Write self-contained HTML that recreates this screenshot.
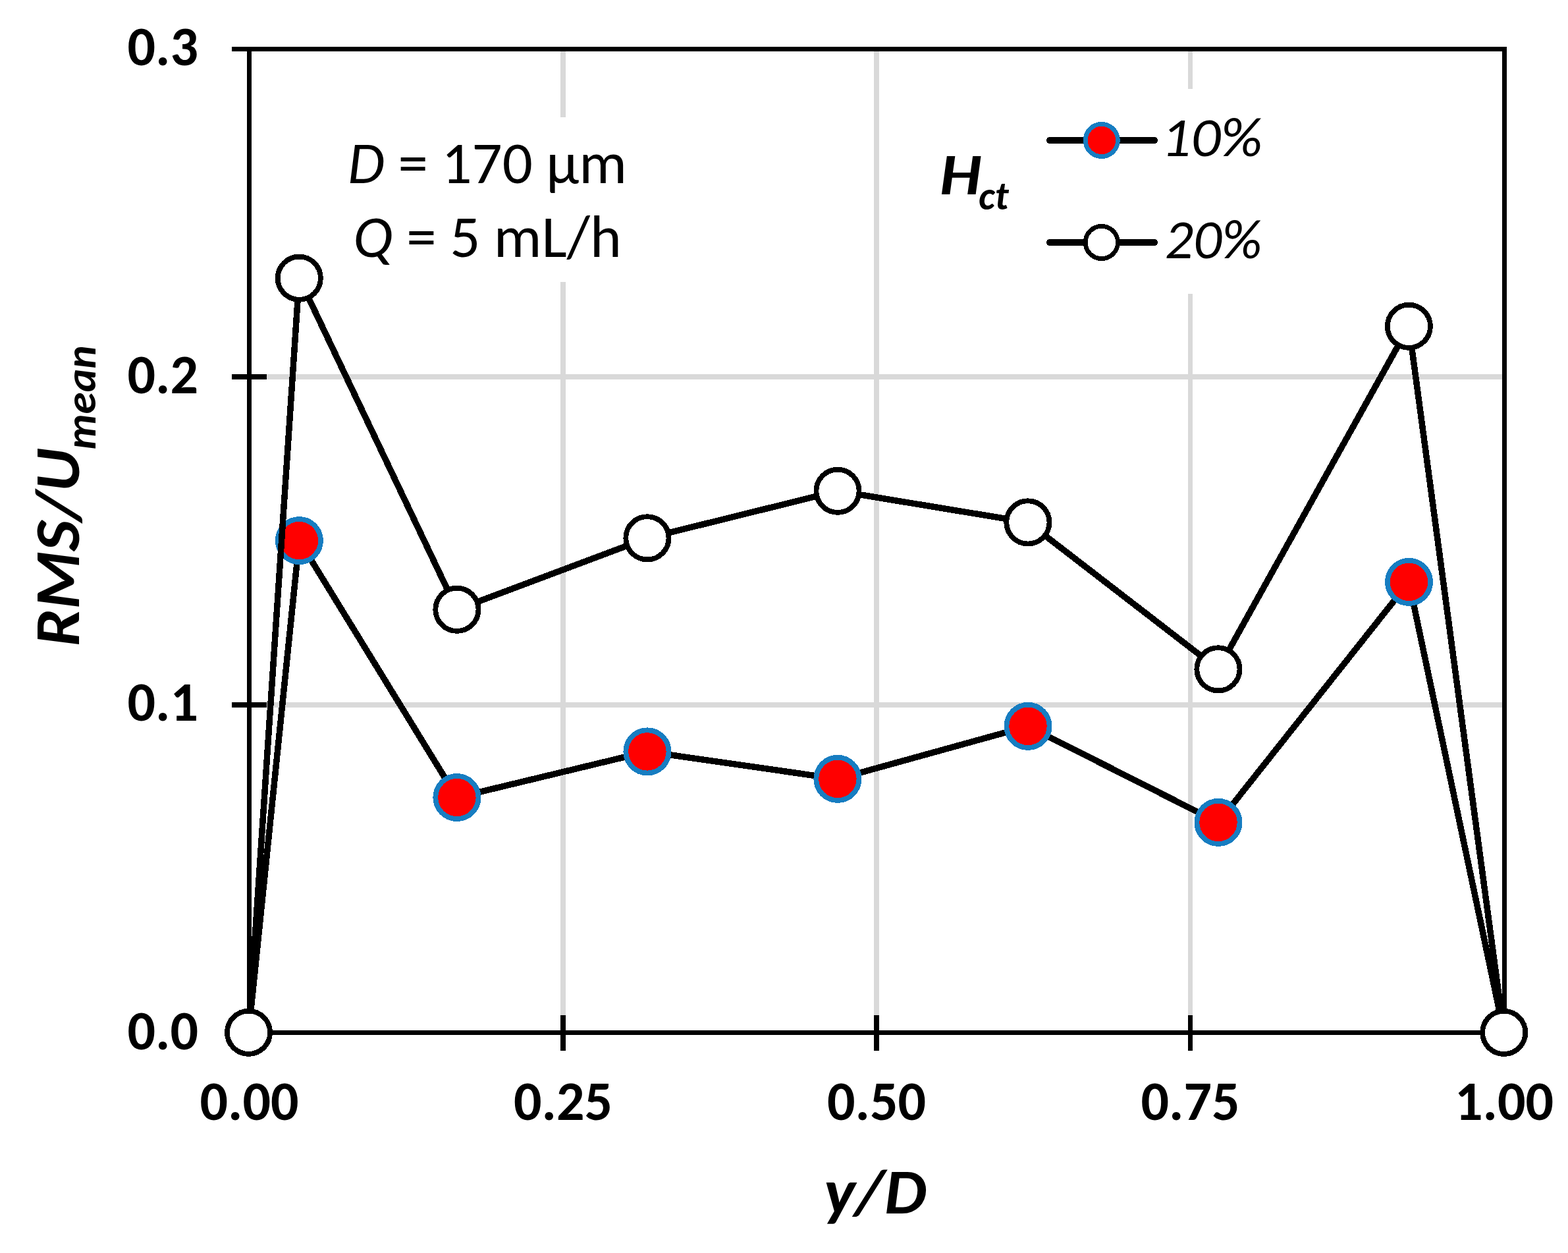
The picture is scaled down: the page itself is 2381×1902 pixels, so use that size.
<!DOCTYPE html>
<html><head><meta charset="utf-8"><title>RMS/Umean vs y/D</title>
<style>
html,body{margin:0;padding:0;background:#fff;width:2381px;height:1902px;overflow:hidden}
svg{display:block}
</style></head><body>
<svg width="2381" height="1902" viewBox="0 0 2381 1902" shape-rendering="crispEdges" font-family="Carlito, 'Liberation Sans', sans-serif">
<rect x="0" y="0" width="2381" height="1902" fill="#fff"/>
<g fill="#d9d9d9" shape-rendering="crispEdges">
<rect x="382" y="568" width="1899" height="8"/>
<rect x="382" y="1066" width="1899" height="8"/>
<rect x="851" y="78" width="8" height="1486"/>
<rect x="1327" y="78" width="8" height="1486"/>
<rect x="1804" y="78" width="7" height="1486"/>
</g>
<g fill="#000" shape-rendering="crispEdges">
<rect x="352" y="71" width="1936" height="7"/>
<rect x="375" y="71" width="7" height="1500"/>
<rect x="2281" y="71" width="7" height="1500"/>
<rect x="375" y="1564" width="1913" height="7"/>
<rect x="352" y="568" width="53" height="8"/>
<rect x="352" y="1066" width="53" height="8"/>
<rect x="352" y="1564" width="53" height="7"/>
<rect x="851" y="1541" width="8" height="54"/>
<rect x="1327" y="1541" width="8" height="54"/>
<rect x="1804" y="1541" width="7" height="54"/>
<rect x="375" y="1541" width="7" height="54"/>
<rect x="2281" y="1541" width="7" height="54"/>
</g>
<g fill="#fff">
<rect x="840" y="178" width="30" height="250"/>
<rect x="1795" y="135" width="25" height="311"/>
</g>
<polyline points="377.5,1567.3 454.4,820.6 693.9,1210.5 982.9,1140.9 1271.9,1182.4 1561,1102.4 1850,1248.4 2139.5,883.4 2283.7,1567.4" fill="none" stroke="#000" stroke-width="9.5" stroke-linejoin="round"/>
<circle cx="377.5" cy="1567.3" r="32.6" fill="#ff0000" stroke="#177dc1" stroke-width="7.8"/>
<circle cx="454.4" cy="820.6" r="32.6" fill="#ff0000" stroke="#177dc1" stroke-width="7.8"/>
<circle cx="693.9" cy="1210.5" r="32.6" fill="#ff0000" stroke="#177dc1" stroke-width="7.8"/>
<circle cx="982.9" cy="1140.9" r="32.6" fill="#ff0000" stroke="#177dc1" stroke-width="7.8"/>
<circle cx="1271.9" cy="1182.4" r="32.6" fill="#ff0000" stroke="#177dc1" stroke-width="7.8"/>
<circle cx="1561" cy="1102.4" r="32.6" fill="#ff0000" stroke="#177dc1" stroke-width="7.8"/>
<circle cx="1850" cy="1248.4" r="32.6" fill="#ff0000" stroke="#177dc1" stroke-width="7.8"/>
<circle cx="2139.5" cy="883.4" r="32.6" fill="#ff0000" stroke="#177dc1" stroke-width="7.8"/>
<circle cx="2283.7" cy="1567.4" r="32.6" fill="#ff0000" stroke="#177dc1" stroke-width="7.8"/>
<polyline points="377.5,1567.3 454.3,422.2 693.9,925.3 982.9,816.8 1272,745.3 1560.9,792.9 1849.9,1015.8 2139.4,495.3 2283.7,1567.4" fill="none" stroke="#000" stroke-width="9.5" stroke-linejoin="round"/>
<circle cx="377.5" cy="1567.3" r="32.6" fill="#ffffff" stroke="#000" stroke-width="7.8"/>
<circle cx="454.3" cy="422.2" r="32.6" fill="#ffffff" stroke="#000" stroke-width="7.8"/>
<circle cx="693.9" cy="925.3" r="32.6" fill="#ffffff" stroke="#000" stroke-width="7.8"/>
<circle cx="982.9" cy="816.8" r="32.6" fill="#ffffff" stroke="#000" stroke-width="7.8"/>
<circle cx="1272" cy="745.3" r="32.6" fill="#ffffff" stroke="#000" stroke-width="7.8"/>
<circle cx="1560.9" cy="792.9" r="32.6" fill="#ffffff" stroke="#000" stroke-width="7.8"/>
<circle cx="1849.9" cy="1015.8" r="32.6" fill="#ffffff" stroke="#000" stroke-width="7.8"/>
<circle cx="2139.4" cy="495.3" r="32.6" fill="#ffffff" stroke="#000" stroke-width="7.8"/>
<circle cx="2283.7" cy="1567.4" r="32.6" fill="#ffffff" stroke="#000" stroke-width="7.8"/>
<g font-weight="bold" font-size="84" text-anchor="end">
<text x="301" y="98.5" textLength="107.6" lengthAdjust="spacingAndGlyphs">0.3</text>
<text x="301" y="596.5" textLength="107.6" lengthAdjust="spacingAndGlyphs">0.2</text>
<text x="301" y="1094" textLength="107.6" lengthAdjust="spacingAndGlyphs">0.1</text>
<text x="301" y="1592.5" textLength="107.6" lengthAdjust="spacingAndGlyphs">0.0</text>
</g>
<g font-weight="bold" font-size="84" text-anchor="middle">
<text x="378.5" y="1700" textLength="150.2" lengthAdjust="spacingAndGlyphs">0.00</text>
<text x="855" y="1700" textLength="150.2" lengthAdjust="spacingAndGlyphs">0.25</text>
<text x="1331" y="1700" textLength="150.2" lengthAdjust="spacingAndGlyphs">0.50</text>
<text x="1807.5" y="1700" textLength="150.2" lengthAdjust="spacingAndGlyphs">0.75</text>
<text x="2284" y="1700" textLength="150.2" lengthAdjust="spacingAndGlyphs">1.00</text>
</g>
<text x="1329" y="1841.8" font-weight="bold" font-style="italic" font-size="98" text-anchor="middle" textLength="155.8" lengthAdjust="spacingAndGlyphs">y/D</text>
<g font-weight="bold" font-style="italic">
<text transform="translate(120.1,981.6) rotate(-90)" font-size="98" textLength="301.2" lengthAdjust="spacingAndGlyphs">RMS/U</text>
<text transform="translate(144.9,682.6) rotate(-90)" font-size="65.3" textLength="158.4" lengthAdjust="spacingAndGlyphs">mean</text>
</g>
<g font-size="91" text-anchor="middle">
<text x="740" y="277.5" textLength="424.1" lengthAdjust="spacingAndGlyphs"><tspan font-style="italic">D</tspan> = 170 μm</text>
<text x="740" y="389.7" textLength="407.5" lengthAdjust="spacingAndGlyphs"><tspan font-style="italic">Q</tspan> = 5 mL/h</text>
</g>
<g font-weight="bold" font-style="italic">
<text x="1427" y="295" font-size="90" textLength="63" lengthAdjust="spacingAndGlyphs">H</text>
<text x="1486" y="317.5" font-size="60" textLength="45.5" lengthAdjust="spacingAndGlyphs">ct</text>
</g>
<g font-style="italic" font-size="84">
<text x="1763.5" y="237" textLength="153.5" lengthAdjust="spacingAndGlyphs">10%</text>
<text x="1768.7" y="391.8" textLength="147.5" lengthAdjust="spacingAndGlyphs">20%</text>
</g>
<g stroke="#000" stroke-width="10" stroke-linecap="round">
<line x1="1594" y1="213" x2="1753" y2="213"/>
<line x1="1594" y1="368" x2="1753" y2="368"/>
</g>
<circle cx="1672.8" cy="213" r="24.6" fill="#ff0000" stroke="#177dc1" stroke-width="6.8"/>
<circle cx="1672.8" cy="368" r="24.6" fill="#ffffff" stroke="#000" stroke-width="6.8"/>
</svg>
</body></html>
